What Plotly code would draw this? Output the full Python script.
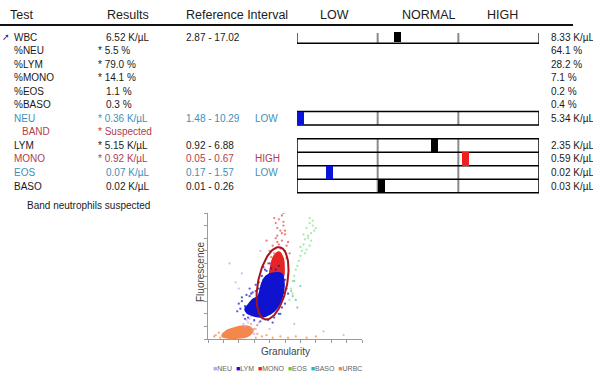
import numpy as np
import plotly.graph_objects as go

# ---------------- data ----------------
tests = ["WBC", "%NEU", "%LYM", "%MONO", "%EOS", "%BASO",
         "NEU", "BAND", "LYM", "MONO", "EOS", "BASO"]
results = ["6.52 K/µL", "* 5.5 %", "* 79.0 %", "* 14.1 %", "1.1 %", "0.3 %",
           "* 0.36 K/µL", "* Suspected", "* 5.15 K/µL", "* 0.92 K/µL", "0.07 K/µL", "0.02 K/µL"]
ref_intervals = ["2.87 - 17.02", "", "", "", "", "",
                 "1.48 - 10.29", "", "0.92 - 6.88", "0.05 - 0.67", "0.17 - 1.57", "0.01 - 0.26"]
flags = ["", "", "", "", "", "", "LOW", "", "", "HIGH", "LOW", ""]
row_tone = ["k", "k", "k", "k", "k", "k", "low", "high", "k", "high", "low", "k"]
right_values = ["8.33 K/µL", "64.1 %", "28.2 %", "7.1 %", "0.2 %", "0.4 %",
                "5.34 K/µL", "", "2.35 K/µL", "0.59 K/µL", "0.02 K/µL", "0.03 K/µL"]
header = ["Test", "Results", "Reference Interval", "LOW", "NORMAL", "HIGH"]
note = "Band neutrophils suspected"

# position of each result on the LOW(0-1) / NORMAL(1-2) / HIGH(2-3) scale
bar_tests = ["WBC", "NEU", "LYM", "MONO", "EOS", "BASO"]
bar_pos = [1.25, 0.04, 1.70, 2.09, 0.40, 1.05]

# scatter clusters (Granularity, Fluorescence) in axis units 0-100
lym_core_x = [26, 28.6, 32.5, 35, 37.7, 42.9, 48, 49.4, 48, 44.8, 40.3, 35, 30, 25.3, 24]
lym_core_y = [27, 31, 34, 44.4, 50, 52.4, 51.6, 42.9, 32.5, 24.6, 19.8, 17.5, 18.3, 20.6, 23.8]
lym_x = [22, 24, 27, 29, 33, 36, 38, 41, 44, 46, 50, 51, 47, 43, 39, 34, 30, 26, 31, 45, 52, 37, 42, 48, 25, 21,
         35, 40, 23, 50, 20, 22, 27, 33, 31, 28, 19, 24, 36, 46]
lym_y = [30, 26, 34, 37, 40, 47, 54, 56, 55, 58, 47, 40, 20, 17, 15, 14, 15, 17, 38, 29, 36, 55, 13, 25, 35, 24,
         50, 60, 19, 28, 28, 33, 40, 45, 43, 36, 22, 16, 57, 20]
mono_core_x = [40.3, 40.9, 42.9, 46.1, 48.7, 49.4, 48.7, 44]
mono_core_y = [50, 58.7, 65.9, 69, 64.3, 56.3, 49.2, 51]
mono_x = [44, 46, 48, 50, 45, 47, 49, 43, 51, 46, 48, 44, 47, 50, 52, 45, 42, 49, 41, 46, 53, 38, 47, 44, 50, 48,
          43, 51, 40, 39, 45, 49]
mono_y = [72, 75, 78, 70, 82, 86, 90, 68, 74, 95, 98, 80, 66, 83, 77, 88, 74, 93, 65, 62, 68, 78, 72, 92, 86, 84,
          96, 64, 70, 60, 77, 100]
eos_x = [66, 68, 69, 67, 64, 65, 63, 67, 62, 66, 64, 61, 63, 60, 59, 58, 57, 56, 55, 54, 55, 53, 65, 68, 62, 60, 70, 66]
eos_y = [92, 90, 86, 84, 88, 82, 79, 78, 75, 74, 71, 70, 68, 66, 62, 58, 55, 50, 46, 40, 36, 31, 80, 94, 83, 73, 88, 96]
neu_x = [24, 26, 28, 30, 32, 27, 29, 31, 25, 33, 23, 35, 20, 37, 28, 30, 18, 14, 40, 56, 75, 88, 34, 22]
neu_y = [10, 13, 9, 14, 11, 16, 6, 8, 15, 13, 12, 16, 40, 25, 18, 4, 45, 60, 8, 12, 6, 3, 70, 52]
baso_x = [54, 57, 55, 58, 60, 56]
baso_y = [38, 31, 34, 25, 42, 46]
urbc_core_x = [9.1, 11.7, 16.9, 22.7, 27.3, 29.2, 26, 19.5, 13]
urbc_core_y = [2.4, 6.3, 8.7, 10.3, 9.5, 6.3, 2.4, 0.8, 0.8]
urbc_x = [5, 7, 30, 32, 35, 38, 42, 47, 52, 57, 32, 8, 28, 4, 31, 64, 70]
urbc_y = [3, 5, 8, 4, 2, 3, 1, 2, 1, 2, 11, 1, 12, 2, 1, 1, 2]
legend_names = ["NEU", "LYM", "MONO", "EOS", "BASO", "URBC"]

# ---------------- styling ----------------
W, H = 593, 377
FONT = "Liberation Sans, Arial, sans-serif"
TONE = {"k": "#1a1a1a", "low": "#3f8fb8", "high": "#b0404e"}
BAR_COL = {"": "#000000", "LOW": "#0a14d8", "HIGH": "#ee2020"}
CL = {"NEU": "#c9a3e6", "LYM": "#0f12cf", "MONO": "#e52424", "EOS": "#55d655",
      "BASO": "#2fb3b0", "URBC": "#f5874a"}
DOT_OP = {"NEU": 0.7, "LYM": 0.7, "MONO": 0.6, "EOS": 0.5, "BASO": 0.6, "URBC": 0.7}

ROW0, ROWH = 37.0, 13.55          # pixel centre of row 1, row pitch
def prow(p):                        # pixel y -> row coordinate
    return 1 + (p - ROW0) / ROWH

fig = go.Figure()

# result markers on the LOW/NORMAL/HIGH scale
rows_b = [tests.index(t) + 1 for t in bar_tests]
bw = 0.088
fig.add_trace(go.Bar(
    y=rows_b, x=[bw] * len(bar_pos), base=[p - bw / 2 for p in bar_pos],
    orientation="h", xaxis="x2", yaxis="y",
    width=[0.8 if t == "WBC" else 1.0 for t in bar_tests],
    marker=dict(color=[BAR_COL[flags[tests.index(t)]] for t in bar_tests], line=dict(width=0)),
    hoverinfo="skip", showlegend=False))

# frames for scale bars (layout decoration)
shapes = []
def sline(x0, y0, x1, y1, col="#000", w=1.5):
    shapes.append(dict(type="line", xref="x2", yref="y", x0=x0, y0=y0, x1=x1, y1=y1,
                       line=dict(color=col, width=w), layer="below"))
wtop, wbot = prow(33), prow(43.3)
for xv in (1, 2):
    sline(xv, wtop, xv, wbot, "#8a8a8a", 2)
sline(0, wtop, 0, wbot, "#333", 1.5)
sline(3, wtop, 3, wbot, "#333", 1.5)
sline(0, wbot, 3, wbot)
# NEU box
r = tests.index("NEU") + 1
for xv in (1, 2):
    sline(xv, r - 0.5, xv, r + 0.5, "#8a8a8a", 2)
shapes.append(dict(type="rect", xref="x2", yref="y", x0=0, x1=3, y0=r - 0.5, y1=r + 0.5,
                   line=dict(color="#000", width=1.5), layer="below"))
# LYM..BASO block
r0, r1 = tests.index("LYM") + 1, tests.index("BASO") + 1
for xv in (1, 2):
    sline(xv, r0 - 0.5, xv, r1 + 0.5, "#8a8a8a", 2)
shapes.append(dict(type="rect", xref="x2", yref="y", x0=0, x1=3, y0=r0 - 0.5, y1=r1 + 0.5,
                   line=dict(color="#000", width=1.5), layer="below"))
for rr in range(r0, r1):
    sline(0, rr + 0.5, 3, rr + 0.5)
# header rule
shapes.append(dict(type="line", xref="paper", yref="y", x0=0, x1=573 / W, y0=prow(25), y1=prow(25),
                   line=dict(color="#111", width=2)))

# ---------------- texts ----------------
ann = []
def txt(xpx, row, s, col="#1a1a1a", size=10, xanchor="left", **kw):
    ann.append(dict(x=xpx / W, xref="paper", y=row, yref="y", text=s, showarrow=False,
                    xanchor=xanchor, yanchor="middle", font=dict(family=FONT, size=size, color=col), **kw))

hdr_x = [8, 105, 184, 318, 400, 485]
for hx, h in zip(hdr_x, header):
    txt(hx, prow(15), h, "#1c1c1c", 12.5)

for i, t in enumerate(tests):
    row = i + 1
    col = TONE[row_tone[i]]
    txt(20 if t == "BAND" else 12, row, t, col)
    rs = results[i]
    txt(96 if rs.startswith("*") else 104, row, rs, col)
    if ref_intervals[i]:
        txt(184, row, ref_intervals[i], col)
    if flags[i]:
        txt(253, row, flags[i], col)
    if right_values[i]:
        txt(549, row, right_values[i], "#1a1a1a")

txt(0, 1.0, "➚", "#1d2f6e", 9)
txt(25, prow(205), note, "#1a1a1a")

# ---------------- scatter plot ----------------
def cluster(name, cx, cy, px_, py_, core_w=1.5):
    c = CL[name]
    if cx:
        fig.add_trace(go.Scatter(x=cx + cx[:1], y=cy + cy[:1], mode="lines", fill="toself",
                                 fillcolor=c, line=dict(color=c, width=core_w, shape="spline"),
                                 xaxis="x3", yaxis="y3", hoverinfo="skip", showlegend=False))
    fig.add_trace(go.Scatter(x=px_, y=py_, mode="markers",
                             marker=dict(color=c, size=2.3, opacity=DOT_OP[name]),
                             xaxis="x3", yaxis="y3", hoverinfo="skip", showlegend=False))

cluster("URBC", urbc_core_x, urbc_core_y, urbc_x, urbc_y)
cluster("NEU", [], [], neu_x, neu_y)
cluster("EOS", [], [], eos_x, eos_y)
cluster("BASO", [], [], baso_x, baso_y)
cluster("MONO", mono_core_x, mono_core_y, mono_x, mono_y)
cluster("LYM", lym_core_x, lym_core_y, lym_x, lym_y)

# gating ellipse (annotation outline), defined in pixel aspect
XPX, YPX = 154 / 100, 126 / 100     # pixels per axis unit
ecx, ecy, ea, eb, eth = 41.9, 44.2, 36.8, 14.5, np.deg2rad(11.5)
t = np.linspace(0, 2 * np.pi, 120)
ex = ecx + (ea * np.cos(t) * np.sin(eth) + eb * np.sin(t) * np.cos(eth)) / XPX
ey = ecy + (ea * np.cos(t) * np.cos(eth) - eb * np.sin(t) * np.sin(eth)) / YPX
fig.add_trace(go.Scatter(x=ex, y=ey, mode="lines", line=dict(color="#a8141c", width=2),
                         xaxis="x3", yaxis="y3", hoverinfo="skip", showlegend=False))

ann.append(dict(x=200 / W, xref="paper", y=1 - 272 / H, yref="paper", text="Fluorescence",
                xanchor="center", yanchor="middle",
                textangle=-90, showarrow=False, font=dict(family=FONT, size=10, color="#444")))
ann.append(dict(x=285 / W, xref="paper", y=1 - 351 / H, yref="paper", text="Granularity",
                xanchor="center", yanchor="middle",
                showarrow=False, font=dict(family=FONT, size=10, color="#444")))
leg = "  ".join(f"<span style='color:{CL[n]}'>■</span>{n}" for n in legend_names)
ann.append(dict(x=287 / W, xref="paper", y=1 - 368 / H, yref="paper", text=leg,
                xanchor="center", yanchor="middle",
                showarrow=False, font=dict(family=FONT, size=7, color="#666")))

ax3 = dict(showline=True, linecolor="#9a9a9a", linewidth=1, ticks="outside", ticklen=3,
           tickcolor="#9a9a9a", showticklabels=False, showgrid=False, zeroline=False, dtick=10)

fig.update_layout(
    width=W, height=H, margin=dict(l=0, r=0, t=0, b=0),
    paper_bgcolor="white", plot_bgcolor="rgba(0,0,0,0)", showlegend=False,
    font=dict(family=FONT, size=10, color="#222"),
    xaxis=dict(domain=[0, 1], range=[0, W], visible=False, anchor="y"),
    yaxis=dict(domain=[0, 1], range=[prow(H), prow(0)], visible=False, anchor="x"),
    xaxis2=dict(domain=[297 / W, 539 / W], range=[0, 3], visible=False, anchor="y"),
    xaxis3=dict(domain=[208 / W, 362 / W], range=[0, 100], anchor="y3", **ax3),
    yaxis3=dict(domain=[1 - 339 / H, 1 - 213 / H], range=[0, 100], anchor="x3", **ax3),
    shapes=shapes, annotations=ann, bargap=0,
)

fig.write_html("out.html", config={"displayModeBar": False},
               post_script="document.body.style.margin='0px';document.body.style.overflow='hidden';")
